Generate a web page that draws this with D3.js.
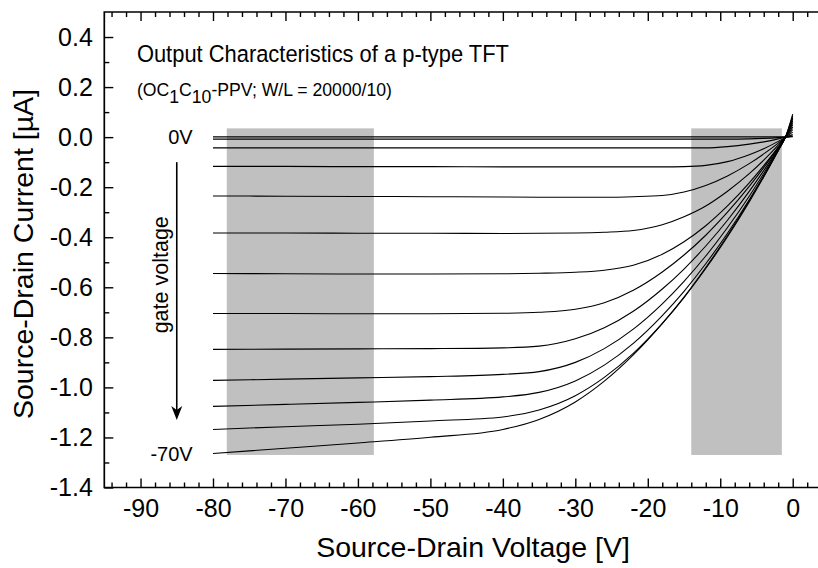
<!DOCTYPE html>
<html><head><meta charset="utf-8">
<script src="https://cdn.jsdelivr.net/npm/d3@7"></script>
<style>
body{margin:0;background:#fff;}
svg{display:block;font-family:"Liberation Sans",Arial,Helvetica,sans-serif;}
</style></head><body>
<svg id="chart" width="818" height="568"></svg>
<script>
// ---- data ----
const drainVoltage = [-80, -70, -60, -50, -40, -35, -30, -26, -22, -18, -15, -12, -9, -6, -4, -2, -1, 0];
const I1  = [0.001,0.001,0.001,0.001,0.001,0.001,0.001,0.001,0.001,0.001,0.001,0.001,0.001,0.001,0.001,0.001,0.001,0.002];
const I2  = [-0.008,-0.008,-0.008,-0.008,-0.008,-0.008,-0.008,-0.008,-0.008,-0.008,-0.008,-0.008,-0.008,-0.007,-0.005,-0.002,0,0.004];
const I3  = [-0.043,-0.043,-0.043,-0.043,-0.043,-0.043,-0.043,-0.043,-0.043,-0.043,-0.043,-0.043,-0.038,-0.028,-0.019,-0.007,0,0.010];
const I4  = [-0.117,-0.117,-0.118,-0.118,-0.119,-0.119,-0.119,-0.119,-0.119,-0.119,-0.118,-0.113,-0.098,-0.070,-0.046,-0.017,0,0.020];
const I5  = [-0.235,-0.236,-0.237,-0.238,-0.239,-0.240,-0.240,-0.240,-0.238,-0.233,-0.219,-0.193,-0.155,-0.106,-0.067,-0.024,0,0.030];
const I6  = [-0.383,-0.383,-0.384,-0.384,-0.385,-0.384,-0.383,-0.380,-0.373,-0.350,-0.318,-0.275,-0.216,-0.146,-0.092,-0.032,0,0.040];
const I7  = [-0.545,-0.546,-0.547,-0.547,-0.546,-0.544,-0.540,-0.532,-0.512,-0.468,-0.418,-0.354,-0.275,-0.183,-0.114,-0.040,0,0.050];
const I8  = [-0.705,-0.705,-0.706,-0.706,-0.704,-0.700,-0.688,-0.662,-0.612,-0.539,-0.471,-0.392,-0.300,-0.197,-0.122,-0.042,0,0.058];
const I9  = [-0.848,-0.847,-0.846,-0.845,-0.842,-0.835,-0.806,-0.762,-0.696,-0.607,-0.527,-0.435,-0.332,-0.217,-0.134,-0.046,0,0.065];
const I10 = [-0.972,-0.967,-0.962,-0.957,-0.948,-0.937,-0.900,-0.845,-0.767,-0.666,-0.576,-0.475,-0.361,-0.236,-0.145,-0.050,0,0.072];
const I11 = [-1.076,-1.068,-1.060,-1.051,-1.038,-1.020,-0.974,-0.911,-0.824,-0.713,-0.616,-0.506,-0.384,-0.250,-0.154,-0.053,0,0.078];
const I12 = [-1.168,-1.157,-1.147,-1.134,-1.118,-1.090,-1.033,-0.960,-0.864,-0.744,-0.641,-0.525,-0.398,-0.259,-0.159,-0.054,0,0.085];
const I13 = [-1.264,-1.243,-1.222,-1.199,-1.168,-1.128,-1.058,-0.975,-0.870,-0.745,-0.639,-0.521,-0.393,-0.254,-0.156,-0.053,0,0.092];
const curves = [I1, I2, I3, I4, I5, I6, I7, I8, I9, I10, I11, I12, I13];

const xTickValues = [-90, -80, -70, -60, -50, -40, -30, -20, -10, 0];
const xTickLabels = ["-90", "-80", "-70", "-60", "-50", "-40", "-30", "-20", "-10", "0"];
const yTickValues = [-1.4, -1.2, -1.0, -0.8, -0.6, -0.4, -0.2, 0.0, 0.2, 0.4];
const yTickLabels = ["-1.4", "-1.2", "-1.0", "-0.8", "-0.6", "-0.4", "-0.2", "0.0", "0.2", "0.4"];
const shadedVoltage = [[-78.1, -57.8], [-14.0, -1.5]];
const shadedCurrent = [-1.27, 0.035];

// ---- drawing ----
const svg = d3.select("#chart");
const x = d3.scaleLinear().domain([-95, 4]).range([104.3, 821.7]);
const y = d3.scaleLinear().domain([-1.4, 0.5]).range([487.5, 12]);
const FONT = 25;

// shaded regions
svg.append("g").selectAll("rect").data(shadedVoltage).join("rect")
  .attr("x", d => x(d[0])).attr("width", d => x(d[1]) - x(d[0]))
  .attr("y", y(shadedCurrent[1])).attr("height", y(shadedCurrent[0]) - y(shadedCurrent[1]))
  .attr("fill", "#c0c0c0");

// curves
const line = d3.line().x(d => x(d[0])).y(d => y(d[1])).curve(d3.curveMonotoneX);
svg.append("g").selectAll("path").data(curves).join("path")
  .attr("d", c => line(drainVoltage.map((v, i) => [v, c[i]])))
  .attr("fill", "none").attr("stroke", "#000").attr("stroke-width", 1.1);

// axes
function styleAxis(g) {
  g.select(".domain").remove();
  g.selectAll(".tick line").attr("stroke", "#000").attr("stroke-width", 1.4);
  g.selectAll(".tick text").attr("fill", "#000").attr("font-size", FONT)
    .attr("font-family", "Liberation Sans, Arial, sans-serif");
}
const xMinor = d3.range(-94, 5, 2).filter(v => v % 10 !== 0);
const yMinor = d3.range(-13, 5, 2).map(v => v / 10);

svg.append("g").attr("transform", `translate(0,${y(-1.4)})`)
  .call(d3.axisBottom(x).tickValues(xTickValues).tickFormat((d, i) => xTickLabels[i])
    .tickSizeInner(-9).tickSizeOuter(0).tickPadding(12)).call(styleAxis);
svg.append("g").attr("transform", `translate(0,${y(-1.4)})`)
  .call(d3.axisBottom(x).tickValues(xMinor).tickFormat("").tickSize(-5)).call(styleAxis);
svg.append("g").attr("transform", `translate(0,${y(0.5)})`)
  .call(d3.axisTop(x).tickValues(xTickValues).tickFormat("").tickSize(-9)).call(styleAxis);
svg.append("g").attr("transform", `translate(0,${y(0.5)})`)
  .call(d3.axisTop(x).tickValues(xMinor).tickFormat("").tickSize(-5)).call(styleAxis);
svg.append("g").attr("transform", `translate(${x(-95)},0)`)
  .call(d3.axisLeft(y).tickValues(yTickValues).tickFormat((d, i) => yTickLabels[i])
    .tickSizeInner(-9).tickSizeOuter(0).tickPadding(11.5)).call(styleAxis);
svg.append("g").attr("transform", `translate(${x(-95)},0)`)
  .call(d3.axisLeft(y).tickValues(yMinor).tickFormat("").tickSize(-5)).call(styleAxis);

// frame (right edge lies outside the picture)
const frame = svg.append("g").attr("stroke", "#000").attr("stroke-width", 1.7).attr("fill", "none");
frame.append("path").attr("d", `M${x(4)},${y(0.5)}H${x(-95)}V${y(-1.4)}H${x(4)}`);

// axis titles
svg.append("text").attr("x", 473).attr("y", 557).attr("text-anchor", "middle")
  .attr("font-size", 28.5).text("Source-Drain Voltage [V]");
svg.append("text").attr("transform", "translate(33,254) rotate(-90)").attr("text-anchor", "middle")
  .attr("font-size", 28.5).text("Source-Drain Current [µA]");

// chart title
svg.append("text").attr("x", x(-90.5)).attr("y", 61.5).attr("font-size", 24.5)
  .attr("textLength", 372).attr("lengthAdjust", "spacingAndGlyphs")
  .text("Output Characteristics of a p-type TFT");
const sub = svg.append("text").attr("x", x(-90.5)).attr("y", 96).attr("font-size", 18)
  .attr("textLength", 255).attr("lengthAdjust", "spacingAndGlyphs");
sub.append("tspan").text("(OC");
sub.append("tspan").attr("dy", 7).text("1");
sub.append("tspan").attr("dy", -7).text("C");
sub.append("tspan").attr("dy", 7).text("10");
sub.append("tspan").attr("dy", -7).text("-PPV; W/L = 20000/10)");

// gate voltage annotations
svg.append("text").attr("x", x(-82.8)).attr("y", y(I1[0])).attr("dy", "0.36em")
  .attr("text-anchor", "end").attr("font-size", 20).text("0V");
svg.append("text").attr("x", x(-82.8)).attr("y", y(I13[0])).attr("dy", "0.36em")
  .attr("text-anchor", "end").attr("font-size", 20).text("-70V");
const ax = x(-85), aTop = y(-0.1), aTip = y(-1.13);
svg.append("line").attr("x1", ax).attr("x2", ax).attr("y1", aTop).attr("y2", aTip - 8)
  .attr("stroke", "#000").attr("stroke-width", 1.6);
svg.append("path").attr("d", `M${ax},${aTip}L${ax - 5.5},${aTip - 14}L${ax},${aTip - 10}L${ax + 5.5},${aTip - 14}Z`)
  .attr("fill", "#000");
svg.append("text").attr("transform", `translate(${x(-86.2)},${y(-0.55)}) rotate(-90)`)
  .attr("text-anchor", "middle").attr("font-size", 21.5).text("gate voltage");
</script>
</body></html>
